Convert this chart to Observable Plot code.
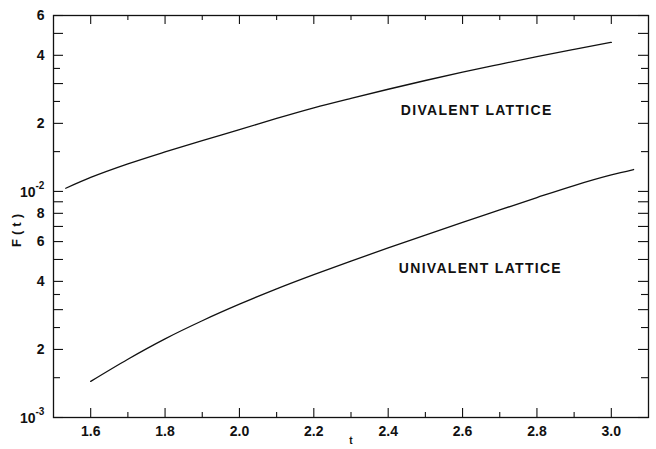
<!DOCTYPE html>
<html>
<head>
<meta charset="utf-8">
<script src="https://cdn.jsdelivr.net/npm/d3@7"></script>
<script src="https://cdn.jsdelivr.net/npm/@observablehq/plot@0.6"></script>
<style>
  html, body { margin: 0; padding: 0; background: #fff; }
  #chart svg { display: block; }
  .lbl text { letter-spacing: 1.3px; }
  .ytitle text { letter-spacing: 4px; }
</style>
</head>
<body>
<div id="chart"></div>
<script>
// Divalent lattice curve
const divT = [1.533, 1.6, 1.7, 1.8, 1.9, 2.0, 2.1, 2.2, 2.3, 2.4, 2.5, 2.6, 2.7, 2.8, 2.9, 3.0];
const divF = [1.033e-2, 1.153e-2, 1.324e-2, 1.496e-2, 1.679e-2, 1.875e-2, 2.104e-2, 2.344e-2, 2.582e-2, 2.831e-2, 3.095e-2, 3.370e-2, 3.651e-2, 3.949e-2, 4.251e-2, 4.566e-2];

// Univalent lattice curve
const uniT = [1.6, 1.7, 1.8, 1.9, 2.0, 2.1, 2.2, 2.3, 2.4, 2.5, 2.6, 2.7, 2.8, 2.9, 3.0, 3.06];
const uniF = [1.445e-3, 1.811e-3, 2.228e-3, 2.679e-3, 3.170e-3, 3.707e-3, 4.285e-3, 4.920e-3, 5.623e-3, 6.412e-3, 7.295e-3, 8.279e-3, 9.397e-3, 1.062e-2, 1.183e-2, 1.250e-2];

// Curve labels
const labelText = ["DIVALENT LATTICE", "UNIVALENT LATTICE"];
const labelT = [2.638, 2.648];
const labelF = [2.28e-2, 4.56e-3];

// Axes
const xDomain = [1.5, 3.1];
const yDomain = [1e-3, 6e-2];
const xMajor = [1.6, 1.8, 2.0, 2.2, 2.4, 2.6, 2.8, 3.0];
const xMinor = [1.7, 1.9, 2.1, 2.3, 2.5, 2.7, 2.9];
const yMajor = [1e-3, 2e-3, 3e-3, 4e-3, 5e-3, 6e-3, 7e-3, 8e-3, 9e-3, 1e-2, 2e-2, 3e-2, 4e-2, 5e-2, 6e-2];
const yMinor = [1.5e-3, 2.5e-3, 3.5e-3, 1.5e-2, 2.5e-2, 3.5e-2];
const yLabelVals = [2e-3, 4e-3, 6e-3, 8e-3, 2e-2, 4e-2, 6e-2];
const yLabelText = ["2", "4", "6", "8", "2", "4", "6"];
const yPowVals = [1e-3, 1e-2];
const yPowBase = ["10", "10"];
const yPowExp = ["-3", "-2"];
const xTitle = "t";
const yTitle = "F(t)";

const W = 656, H = 449, mL = 53, mR = 8, mT = 15, mB = 32;
const fw = W - mL - mR, fh = H - mT - mB;
const ink = "#111";

const divData = divT.map((t, i) => ({t, f: divF[i]}));
const uniData = uniT.map((t, i) => ({t, f: uniF[i]}));
const labels = labelText.map((s, i) => ({s, t: labelT[i], f: labelF[i]}));
const yLabels = yLabelVals.map((v, i) => ({v, s: yLabelText[i]}));
const yPows = yPowVals.map((v, i) => ({v, b: yPowBase[i], e: yPowExp[i]}));

const tickL = (data, len) => Plot.tickY(data, {y: d => d, insetRight: fw - len, stroke: ink, strokeWidth: 1.1});
const tickR = (data, len) => Plot.tickY(data, {y: d => d, insetLeft: fw - len, stroke: ink, strokeWidth: 1.1});
const tickB = (data, len) => Plot.tickX(data, {x: d => d, insetTop: fh - len, stroke: ink, strokeWidth: 1.1});
const tickT = (data, len) => Plot.tickX(data, {x: d => d, insetBottom: fh - len, stroke: ink, strokeWidth: 1.1});

const chart = Plot.plot({
  width: W, height: H,
  marginLeft: mL, marginRight: mR, marginTop: mT, marginBottom: mB,
  style: {fontFamily: "'Liberation Sans', Arial, sans-serif", fontWeight: "bold", fontSize: "14px", color: ink, background: "#fff"},
  x: {domain: xDomain, label: null},
  y: {type: "log", domain: yDomain, label: null, axis: null},
  marks: [
    Plot.frame({stroke: ink, strokeWidth: 1.3}),
    tickL(yMajor, 10), tickL(yMinor, 7),
    tickR(yMajor, 10), tickR(yMinor, 7),
    tickB(xMajor, 9), tickB(xMinor, 5),
    tickT(xMajor, 9), tickT(xMinor, 5),
    Plot.axisX({ticks: xMajor, tickSize: 0, tickPadding: 9, tickFormat: d => d.toFixed(1), label: null, fontSize: 14}),
    Plot.text(yLabels, {y: "v", text: "s", frameAnchor: "left", textAnchor: "end", dx: -9, fontSize: 14, fill: ink}),
    Plot.text(yPows, {y: "v", text: "b", frameAnchor: "left", textAnchor: "end", dx: -18, dy: 1, fontSize: 14, fill: ink}),
    Plot.text(yPows, {y: "v", text: "e", frameAnchor: "left", textAnchor: "start", dx: -18, dy: -6, fontSize: 10, fill: ink}),
    Plot.text([xTitle], {frameAnchor: "bottom", textAnchor: "middle", dy: 26, fontSize: 10, fill: ink}),
    Plot.text([yTitle], {frameAnchor: "left", textAnchor: "middle", dx: -37, dy: 12, rotate: -90, fontSize: 13, fill: ink, className: "ytitle"}),
    Plot.line(divData, {x: "t", y: "f", stroke: ink, strokeWidth: 1.3, curve: "monotone-x"}),
    Plot.line(uniData, {x: "t", y: "f", stroke: ink, strokeWidth: 1.3, curve: "monotone-x"}),
    Plot.text(labels, {x: "t", y: "f", text: "s", fontSize: 14, fill: ink, className: "lbl"})
  ]
});
document.getElementById("chart").append(chart);
</script>
</body>
</html>
